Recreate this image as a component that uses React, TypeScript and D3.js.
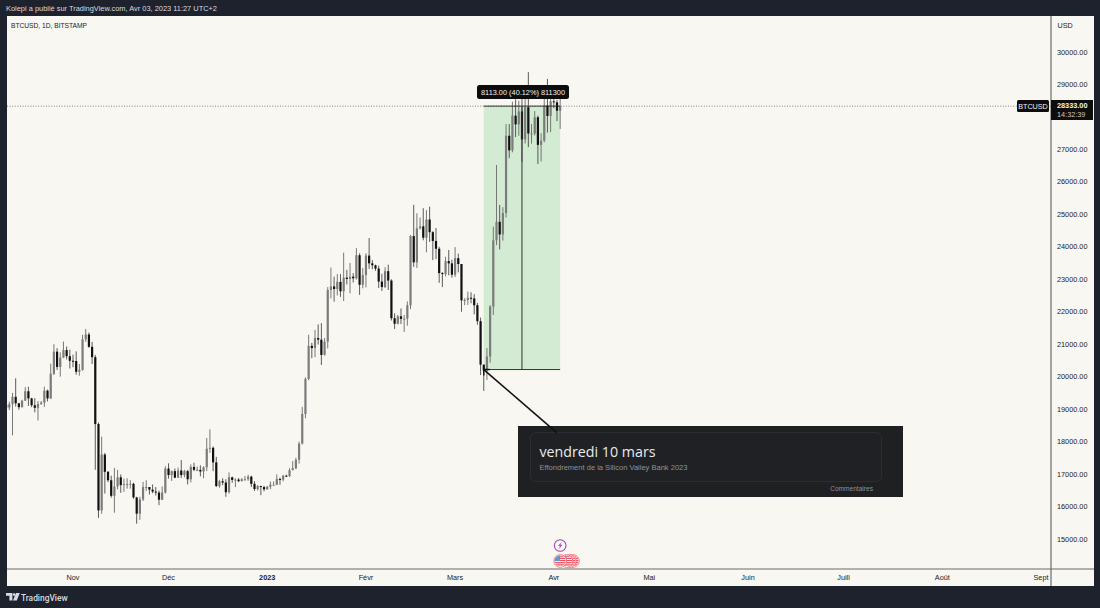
import { scaleLinear, scaleUtc, utcDay } from "d3";

const WIDTH = 1100;
const HEIGHT = 608;
const PANE = { left: 7, top: 16, right: 1051, bottom: 569, outerRight: 1094, outerBottom: 586 };

const BG = "#f8f7f2";
const FRAME = "#1e222d";

const headerText = "Kolepi a publié sur TradingView.com, Avr 03, 2023 11:27 UTC+2";
const symbolText = "BTCUSD, 1D, BITSTAMP";

// 28000 sits behind the last price tag, so it is not listed
const priceTicks = [15000, 16000, 17000, 18000, 19000, 20000, 21000, 22000, 23000, 24000, 25000, 26000, 27000, 29000, 30000];

const monthTicks = [
  { date: "2022-11-01", label: "Nov" },
  { date: "2022-12-01", label: "Déc" },
  { date: "2023-01-01", label: "2023" },
  { date: "2023-02-01", label: "Févr" },
  { date: "2023-03-01", label: "Mars" },
  { date: "2023-04-01", label: "Avr" },
  { date: "2023-05-01", label: "Mai" },
  { date: "2023-06-01", label: "Juin" },
  { date: "2023-07-01", label: "Juill" },
  { date: "2023-08-01", label: "Août" },
  { date: "2023-09-01", label: "Sept" },
];

const firstDay = "2022-10-11";

// one row per month, oct 11 -> apr 3
const opens = [
  19130, 19050, 19150, 19380, 19180, 19060, 19260, 19550, 19330, 19120, 19040, 19160, 19200, 19570, 19330, 20090, 20770, 20300, 20590, 20820, 20630,
  20490, 20480, 20150, 20210, 21150, 21300, 20920, 20600, 18540, 15880, 17600, 17070, 16810, 16330, 16620, 16900, 16660, 16690, 16690, 16700, 16280, 15780, 16220, 16600, 16600, 16520, 16460, 16430, 16210, 16430,
  17170, 16970, 17090, 16890, 17110, 16970, 17090, 16840, 17220, 17130, 17130, 17080, 17210, 17780, 17810, 17360, 16630, 16780, 16740, 16440, 16900, 16820, 16830, 16780, 16840, 16840, 16920, 16700, 16540, 16630, 16600,
  16530, 16610, 16670, 16670, 16850, 16830, 16950, 16940, 17120, 17180, 17440, 17940, 18850, 19930, 20950, 20880, 21190, 21140, 20670, 21080, 22670, 22780, 22700, 22920, 22630, 23050, 23010, 23080, 23030, 23740, 22830,
  23130, 23730, 23490, 23430, 23330, 22930, 22760, 23250, 22960, 21800, 21630, 21860, 21780, 21790, 22200, 24330, 23520, 24570, 24630, 24280, 24840, 24450, 24180, 23940, 23190, 23160, 23560, 23490,
  23140, 23650, 23470, 22350, 22360, 22430, 22410, 22200, 21710, 20370, 20190, 20620, 22160, 24200, 24770, 24380, 25040, 27420, 26970, 28040, 27770, 28170, 27310, 28300, 27490, 27490, 27990, 27140, 27270, 28350, 28030,
  28480, 28450, 28190,
];

const highs = [
  19250, 19230, 19500, 19950, 19190, 19290, 19680, 19690, 19350, 19340, 19250, 19250, 19690, 19600, 20400, 21000, 20880, 20750, 21080, 20930, 20830,
  20680, 20780, 20390, 21290, 21470, 21360, 21070, 20670, 18590, 18150, 17650, 17090, 16950, 17190, 17130, 16990, 16860, 16870, 16810, 16730, 16300, 16300, 16760, 16810, 16600, 16680, 16600, 16490, 16620, 17240,
  17330, 17110, 17170, 17200, 17430, 17130, 17130, 17300, 17350, 17230, 17270, 17240, 18110, 18380, 17850, 17530, 16820, 16870, 16840, 17050, 16920, 16870, 16880, 16880, 16940, 16980, 16950, 16780, 16660, 16640, 16640,
  16630, 16770, 16770, 16990, 16890, 16970, 16980, 17180, 17400, 17500, 18000, 19070, 19980, 21290, 21040, 21440, 21610, 21650, 21190, 22760, 23360, 23080, 23160, 23160, 23820, 23290, 23500, 23190, 23960, 23800, 23350,
  23800, 24270, 23590, 23450, 23420, 23170, 23370, 23450, 23000, 21950, 21900, 22100, 21900, 22320, 24360, 25290, 25030, 24900, 25190, 25130, 25235, 24480, 24580, 24000, 23220, 23690, 23900, 23600,
  23990, 23790, 23470, 22420, 22620, 22600, 22540, 22270, 21820, 20370, 20880, 22200, 24620, 26520, 25290, 25220, 27780, 27780, 28470, 28540, 28500, 28800, 28760, 29380, 27780, 28180, 28040, 27500, 28640, 29170, 28650,
  28820, 28530, 28590,
];

const lows = [
  18860, 18970, 18190, 19080, 18980, 19050, 19250, 19100, 19060, 18900, 18650, 19130, 19070, 19240, 19310, 20050, 20210, 20000, 20570, 20530, 20250,
  20290, 20060, 20030, 20180, 21070, 20890, 20390, 17130, 15650, 15780, 16400, 16750, 16270, 15810, 16530, 16420, 16450, 16550, 16550, 16240, 15470, 15590, 16170, 16480, 16370, 16410, 16340, 16040, 16200, 16400,
  16860, 16790, 16870, 16880, 16880, 16900, 16680, 16740, 17090, 17090, 16930, 16870, 17090, 17650, 17090, 16600, 16580, 16660, 16300, 16400, 16730, 16600, 16750, 16780, 16800, 16790, 16600, 16480, 16490, 16350, 16470,
  16520, 16540, 16660, 16660, 16670, 16780, 16910, 16910, 17120, 17150, 17320, 17910, 18720, 19890, 20570, 20600, 20990, 20360, 20650, 20870, 22410, 22310, 22500, 22460, 22330, 22840, 22570, 22900, 22990, 22520, 22720,
  22750, 23320, 23310, 23260, 22730, 22640, 22730, 22670, 21730, 21470, 21610, 21620, 21380, 21570, 22080, 23380, 23350, 24530, 24200, 23830, 24150, 23590, 23620, 22890, 22760, 23090, 23120, 23050,
  23070, 23210, 22000, 22200, 22210, 22260, 21920, 21600, 20050, 19560, 19900, 20430, 21900, 24050, 23920, 24190, 24900, 26730, 26910, 27380, 27420, 26620, 27180, 27070, 27180, 27430, 26550, 26630, 27220, 27520, 27530,
  28270, 27870, 27630,
];

const closes = [
  19050, 19150, 19380, 19180, 19060, 19260, 19550, 19330, 19120, 19040, 19160, 19200, 19570, 19330, 20090, 20770, 20300, 20590, 20820, 20630, 20490,
  20480, 20150, 20210, 21150, 21300, 20920, 20600, 18540, 15880, 17600, 17070, 16810, 16330, 16620, 16900, 16660, 16690, 16690, 16700, 16280, 15780, 16220, 16600, 16600, 16520, 16460, 16430, 16210, 16430, 17170,
  16970, 17090, 16890, 17110, 16970, 17090, 16840, 17220, 17130, 17130, 17080, 17210, 17780, 17810, 17360, 16630, 16780, 16740, 16440, 16900, 16820, 16830, 16780, 16840, 16840, 16920, 16700, 16540, 16630, 16600, 16530,
  16610, 16670, 16670, 16850, 16830, 16950, 16940, 17120, 17180, 17440, 17940, 18850, 19930, 20950, 20880, 21190, 21140, 20670, 21080, 22670, 22780, 22700, 22920, 22630, 23050, 23010, 23080, 23030, 23740, 22830, 23130,
  23730, 23490, 23430, 23330, 22930, 22760, 23250, 22960, 21800, 21630, 21860, 21780, 21790, 22200, 24330, 23520, 24570, 24630, 24280, 24840, 24450, 24180, 23940, 23190, 23160, 23560, 23490, 23140,
  23650, 23470, 22350, 22360, 22430, 22410, 22200, 21710, 20370, 20190, 20620, 22160, 24200, 24770, 24380, 25040, 27420, 26970, 28040, 27770, 28170, 27310, 28300, 27490, 27490, 27990, 27140, 27270, 28350, 28030, 28480,
  28450, 28190, 28333,
];

const lastPrice = 28333;
const lastPriceText = "28333.00";
const countdownText = "14:32:39";

// long position tool
const toolStart = "2023-03-10";
const toolEnd = "2023-04-03";
const toolTop = 28333;
const toolBottom = 20220;
const toolLabel = "8113.00 (40.12%) 811300";

// arrow from the note box to the march 10 candle
const arrowTip = { date: "2023-03-10", price: 20220 };
const arrowTail = { date: "2023-04-02", price: 18266 };

const noteTitle = "vendredi 10 mars";
const noteText = "Effondrement de la Silicon Valley Bank 2023";
const noteFooter = "Commentaires";

const flagDates = ["2023-04-07", "2023-04-06", "2023-04-05", "2023-04-03"];
const stripeRows = [-5.5, -3.3, -1.1, 1.1, 3.3];

const utc = (s: string) => new Date(`${s}T00:00:00Z`);

const x = scaleUtc().domain([utc("2022-11-01"), utc("2023-09-01")]).range([73, 1041]);
const y = scaleLinear().domain([15000, 30000]).range([539, 52]);

const days = closes.map((_, i) => utcDay.offset(utc(firstDay), i));

const AXIS_FONT = "'Liberation Sans', Arial, sans-serif";

export default function App() {
  const toolX0 = x(utc(toolStart));
  const toolX1 = x(utc(toolEnd));
  const toolMid = (toolX0 + toolX1) / 2;
  const tipX = x(utc(arrowTip.date));
  const tipY = y(arrowTip.price);
  const boltX = x(utc(toolEnd));

  return (
    <div style={{ position: "absolute", left: 0, top: 0, width: WIDTH, height: HEIGHT }}>
      {/* opacity just under 1 keeps the small text on grayscale antialiasing */}
      <svg width={WIDTH} height={HEIGHT} viewBox={`0 0 ${WIDTH} ${HEIGHT}`} style={{ display: "block", opacity: 0.999 }} fontFamily={AXIS_FONT}>
        <defs>
          <clipPath id="pane">
            <rect x={PANE.left} y={PANE.top} width={PANE.right - PANE.left} height={PANE.bottom - PANE.top} />
          </clipPath>
          {flagDates.map((d, i) => (
            <clipPath id={`flag-${i}`} key={d}>
              <circle cx={x(utc(d))} cy={561} r={5.6} />
            </clipPath>
          ))}
        </defs>

        <rect width={WIDTH} height={HEIGHT} fill={FRAME} />
        <rect x={PANE.left} y={PANE.top} width={PANE.outerRight - PANE.left} height={PANE.outerBottom - PANE.top} fill={BG} />

        <text x={6} y={10.5} fontSize={7.6} fill="#d8dae0" textLength={211} lengthAdjust="spacingAndGlyphs">{headerText}</text>
        <text x={11} y={28} fontSize={7.4} fill="#222" textLength={76} lengthAdjust="spacingAndGlyphs">{symbolText}</text>

        <rect x={toolX0} y={y(toolTop)} width={toolX1 - toolX0} height={y(toolBottom) - y(toolTop)} fill="#d3ead3" />

        <line x1={PANE.left} x2={PANE.right} y1={y(lastPrice)} y2={y(lastPrice)} stroke="#666" strokeWidth={0.8} strokeDasharray="1 1.6" />

        <g clipPath="url(#pane)">
          {days.map((d, i) => {
            const up = closes[i] >= opens[i];
            const top = y(Math.max(opens[i], closes[i]));
            const bottom = y(Math.min(opens[i], closes[i]));
            const cx = x(d);
            return (
              <g key={i}>
                <line x1={cx} x2={cx} y1={y(highs[i])} y2={y(lows[i])} stroke={up ? "#6a6a6a" : "#4a4a4a"} strokeWidth={0.9} />
                <rect x={cx - 1.1} width={2.2} y={top} height={Math.max(bottom - top, 1)} fill={up ? "#7c7c7c" : "#111"} />
              </g>
            );
          })}
        </g>

        <line x1={toolX0} x2={toolX1} y1={y(toolTop)} y2={y(toolTop)} stroke="#222" strokeWidth={0.9} />
        <line x1={toolX0} x2={toolX1} y1={y(toolBottom)} y2={y(toolBottom)} stroke="#222" strokeWidth={0.9} />
        <line x1={toolMid} x2={toolMid} y1={y(toolTop)} y2={y(toolBottom)} stroke="#333" strokeWidth={1} />

        <rect x={477} y={85} width={92} height={14} rx={2.5} fill="#0d0d0d" />
        <text x={523} y={94.7} textAnchor="middle" fontSize={7.6} fill="#f2f2f2" textLength={84} lengthAdjust="spacingAndGlyphs">{toolLabel}</text>

        {/* note pasted over the chart */}
        <rect x={518} y={426} width={385} height={71} fill="#1f2022" />
        <rect x={530.5} y={432.5} width={351} height={49} rx={5} fill="#202124" stroke="#303134" strokeWidth={0.8} />
        <text x={539.5} y={457} fontSize={14.4} fontFamily="'Open Sans', Roboto, sans-serif" fill="#e8eaed" textLength={116} lengthAdjust="spacingAndGlyphs">{noteTitle}</text>
        <text x={539.5} y={470} fontSize={7.7} fill="#8f9297" textLength={148} lengthAdjust="spacingAndGlyphs">{noteText}</text>
        <text x={873} y={491} textAnchor="end" fontSize={6.6} fill="#8f9297">{noteFooter}</text>

        <line
          x1={x(utc(arrowTail.date))}
          y1={y(arrowTail.price)}
          x2={tipX}
          y2={tipY}
          stroke="#111"
          strokeWidth={1.6}
        />
        <path d={`M${tipX + 6},${tipY} L${tipX},${tipY} L${tipX},${tipY + 6}`} fill="none" stroke="#111" strokeWidth={1.4} />

        {/* events */}
        <circle cx={boltX} cy={545.5} r={5.8} fill={BG} stroke="#ab47bc" strokeWidth={1.1} />
        <path
          d={`M${boltX + 1.5},541.9 L${boltX - 2.2},546.1 L${boltX - 0.2},546.1 L${boltX - 1.2},549.1 L${boltX + 2.2},544.7 L${boltX + 0.2},544.7 Z`}
          fill="#ab47bc"
        />
        {flagDates.map((d, i) => {
          const fx = x(utc(d));
          return (
            <g key={d}>
              <circle cx={fx} cy={561} r={6.3} fill="#fff" stroke="#f4707e" strokeWidth={1} />
              <g clipPath={`url(#flag-${i})`}>
                <rect x={fx - 6} y={555} width={12} height={12} fill="#fff" />
                {stripeRows.map((r) => (
                  <rect key={r} x={fx - 6} y={561 + r} width={12} height={1.3} fill="#ef5060" />
                ))}
                <rect x={fx - 6} y={555} width={6} height={6} fill="#5b9bd5" />
              </g>
            </g>
          );
        })}

        {/* price axis */}
        <line x1={PANE.right} x2={PANE.right} y1={PANE.top} y2={PANE.outerBottom} stroke="#6b6b6b" strokeWidth={1.2} />
        <text x={1057.5} y={28} fontSize={7.2} fill="#222">USD</text>
        {priceTicks.map((t) => (
          <text key={t} x={1057} y={y(t)} dy="0.35em" fontSize={7.3} fill="#222">
            {t.toFixed(2)}
          </text>
        ))}

        {/* time axis */}
        <line x1={PANE.left} x2={PANE.outerRight} y1={PANE.bottom} y2={PANE.bottom} stroke="#6b6b6b" strokeWidth={1.2} />
        {monthTicks.map((m) => (
          <text
            key={m.date}
            x={x(utc(m.date))}
            y={580}
            textAnchor="middle"
            fontSize={7.3}
            fontWeight={m.label === "2023" ? 700 : 400}
            fill="#222"
          >
            {m.label}
          </text>
        ))}

        {/* last price tags */}
        <rect x={1017} y={100} width={32} height={12} rx={1.5} fill="#0d0d0d" />
        <text x={1033} y={108.7} textAnchor="middle" fontSize={7.2} fill="#f2f2f2">BTCUSD</text>
        <rect x={1051} y={100} width={42} height={20} fill="#0d0d0d" />
        <text x={1057} y={108.4} fontSize={7.3} fill="#f2f2f2" fontWeight={700}>{lastPriceText}</text>
        <text x={1057} y={117.4} fontSize={7.3} fill="#c8c8c8">{countdownText}</text>

        {/* logo */}
        <path d="M6,593 h6.4 v7.4 h-3 v-4.6 h-3.4 z M16,593 h3.8 l-3,7.4 h-3.8 z" fill="#d8dae0" />
        <circle cx={14} cy={594.6} r={1.3} fill="#d8dae0" />
        <text x={21} y={600.6} fontSize={8.4} fontWeight={500} fontFamily="Roboto, sans-serif" fill="#d8dae0">TradingView</text>
      </svg>
    </div>
  );
}
